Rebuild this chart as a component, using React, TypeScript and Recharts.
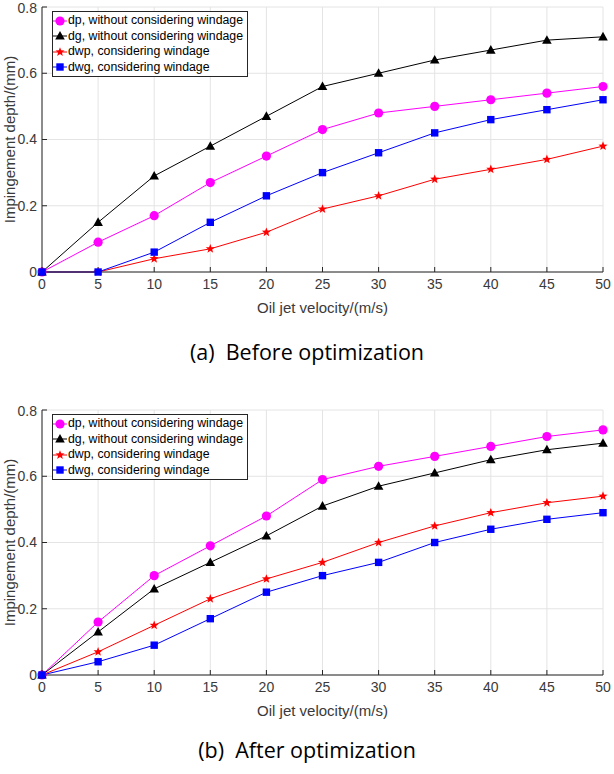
import React from 'react';
import { LineChart, Line, XAxis, YAxis, CartesianGrid, Legend } from 'recharts';

const velocity = [0, 5, 10, 15, 20, 25, 30, 35, 40, 45, 50];
const yTicks = [0, 0.2, 0.4, 0.6, 0.8];

// (a) before optimization
const beforeDp = [0, 0.09, 0.17, 0.27, 0.35, 0.43, 0.48, 0.5, 0.52, 0.54, 0.56];
const beforeDg = [0, 0.15, 0.29, 0.38, 0.47, 0.56, 0.6, 0.64, 0.67, 0.7, 0.71];
const beforeDwp = [0, 0, 0.04, 0.07, 0.12, 0.19, 0.23, 0.28, 0.31, 0.34, 0.38];
const beforeDwg = [0, 0, 0.06, 0.15, 0.23, 0.3, 0.36, 0.42, 0.46, 0.49, 0.52];

// (b) after optimization
const afterDp = [0, 0.16, 0.3, 0.39, 0.48, 0.59, 0.63, 0.66, 0.69, 0.72, 0.74];
const afterDg = [0, 0.13, 0.26, 0.34, 0.42, 0.51, 0.57, 0.61, 0.65, 0.68, 0.7];
const afterDwp = [0, 0.07, 0.15, 0.23, 0.29, 0.34, 0.4, 0.45, 0.49, 0.52, 0.54];
const afterDwg = [0, 0.04, 0.09, 0.17, 0.25, 0.3, 0.34, 0.4, 0.44, 0.47, 0.49];

const series = [
  { key: 'dp', name: 'dp, without considering windage', color: '#ff00ff', shape: 'circle' },
  { key: 'dg', name: 'dg, without considering windage', color: '#000000', shape: 'triangle' },
  { key: 'dwp', name: 'dwp, considering windage', color: '#ff0000', shape: 'star' },
  { key: 'dwg', name: 'dwg, considering windage', color: '#0000ff', shape: 'square' },
];

const buildData = (dp: number[], dg: number[], dwp: number[], dwg: number[]) =>
  velocity.map((v, i) => ({ v, dp: dp[i], dg: dg[i], dwp: dwp[i], dwg: dwg[i] }));

const beforeData = buildData(beforeDp, beforeDg, beforeDwp, beforeDwg);
const afterData = buildData(afterDp, afterDg, afterDwp, afterDwg);

const FONT = '"Liberation Sans", Arial, sans-serif';
const AXIS = '#262626';
const TEXT = '#3a3a3a';

const starPoints = (cx: number, cy: number, R: number) => {
  const pts: string[] = [];
  for (let i = 0; i < 10; i++) {
    const r = i % 2 === 0 ? R : R * 0.42;
    const a = -Math.PI / 2 + (i * Math.PI) / 5;
    pts.push(`${cx + r * Math.cos(a)},${cy + r * Math.sin(a)}`);
  }
  return pts.join(' ');
};

const Marker = ({ cx, cy, color, shape }: any) => {
  if (cx == null || cy == null) return null;
  if (shape === 'circle') return <circle cx={cx} cy={cy} r={4.6} fill={color} />;
  if (shape === 'triangle')
    return <path d={`M${cx},${cy - 5}L${cx + 4.8},${cy + 3.6}L${cx - 4.8},${cy + 3.6}Z`} fill={color} />;
  if (shape === 'square') return <rect x={cx - 3.7} y={cy - 3.7} width={7.4} height={7.4} fill={color} />;
  return <polygon points={starPoints(cx, cy, 4.8)} fill={color} />;
};

const LegendBox = () => (
  <div
    style={{
      border: '1px solid #262626',
      background: '#fff',
      padding: '1px 4px 1px 0px',
      fontFamily: FONT,
      fontSize: 12.3,
      color: '#000',
      lineHeight: '15.5px',
    }}
  >
    {series.map((s) => (
      <div key={s.key} style={{ display: 'flex', alignItems: 'center', height: 15.5 }}>
        <svg width={14} height={12} style={{ marginRight: 1 }}>
          <line x1={0} y1={6} x2={14} y2={6} stroke={s.color} strokeWidth={1} />
          <Marker cx={7} cy={6} color={s.color} shape={s.shape} />
        </svg>
        <span>{s.name}</span>
      </div>
    ))}
  </div>
);

const Panel = ({ data }: { data: any[] }) => (
  <LineChart width={614} height={320} data={data} margin={{ top: 7, right: 11, bottom: 0, left: 0 }}>
    <CartesianGrid stroke="#e4e4e4" strokeWidth={1} />
    <XAxis
      dataKey="v"
      type="number"
      domain={[0, 50]}
      ticks={velocity}
      height={48}
      stroke={AXIS}
      tickSize={-5}
      tickMargin={12}
      tick={{ fill: TEXT, fontSize: 14, fontFamily: FONT }}
      label={{
        content: ({ viewBox }: any) => (
          <text
            x={viewBox.x + viewBox.width / 2}
            y={viewBox.y + 41}
            textAnchor="middle"
            fill={TEXT}
            fontSize={15}
            fontFamily={FONT}
          >
            Oil jet velocity/(m/s)
          </text>
        ),
      }}
    />
    <XAxis
      xAxisId="top"
      orientation="top"
      dataKey="v"
      type="number"
      domain={[0, 50]}
      ticks={velocity}
      height={0}
      stroke={AXIS}
      tickSize={-5}
      tick={false}
    />
    <YAxis
      type="number"
      domain={[0, 0.8]}
      ticks={yTicks}
      width={42}
      stroke={AXIS}
      tickSize={-5}
      tickMargin={10}
      tickFormatter={(v: number) => (v === 0 ? '0' : v.toFixed(1))}
      tick={{ fill: TEXT, fontSize: 14, fontFamily: FONT }}
      label={{
        content: ({ viewBox }: any) => {
          const x = 15;
          const y = viewBox.y + viewBox.height / 2;
          return (
            <text
              x={x}
              y={y}
              transform={`rotate(-90 ${x} ${y})`}
              textAnchor="middle"
              fill={TEXT}
              fontSize={15}
              fontFamily={FONT}
            >
              Impingement depth/(mm)
            </text>
          );
        },
      }}
    />
    <YAxis
      yAxisId="right"
      orientation="right"
      type="number"
      domain={[0, 0.8]}
      ticks={yTicks}
      width={0}
      stroke={AXIS}
      tickSize={-5}
      tick={false}
    />
    <Legend
      layout="vertical"
      align="center"
      verticalAlign="middle"
      content={() => <LegendBox />}
      wrapperStyle={{ position: 'absolute', left: 52, top: 11, width: 'auto' }}
    />
    {series.map((s) => (
      <Line
        key={s.key}
        dataKey={s.key}
        name={s.name}
        stroke={s.color}
        strokeWidth={1}
        isAnimationActive={false}
        dot={(p: any) => <Marker key={p.index} cx={p.cx} cy={p.cy} color={s.color} shape={s.shape} />}
        activeDot={false}
      />
    ))}
  </LineChart>
);

const captionStyle: React.CSSProperties = {
  position: 'absolute',
  left: 0,
  width: 614,
  textAlign: 'center',
  fontFamily: '"Open Sans", "Noto Sans", sans-serif',
  fontSize: 21.5,
  color: '#000',
  whiteSpace: 'pre',
};

export default function App() {
  return (
    <div style={{ position: 'relative', width: 614, height: 774, background: '#fff', overflow: 'hidden' }}>
      <style>{'body{margin:0}'}</style>
      <div style={{ position: 'absolute', left: 0, top: 0 }}>
        <Panel data={beforeData} />
      </div>
      <div style={{ ...captionStyle, top: 337 }}>(a)  Before optimization</div>
      <div style={{ position: 'absolute', left: 0, top: 403 }}>
        <Panel data={afterData} />
      </div>
      <div style={{ ...captionStyle, top: 735 }}>(b)  After optimization</div>
    </div>
  );
}
